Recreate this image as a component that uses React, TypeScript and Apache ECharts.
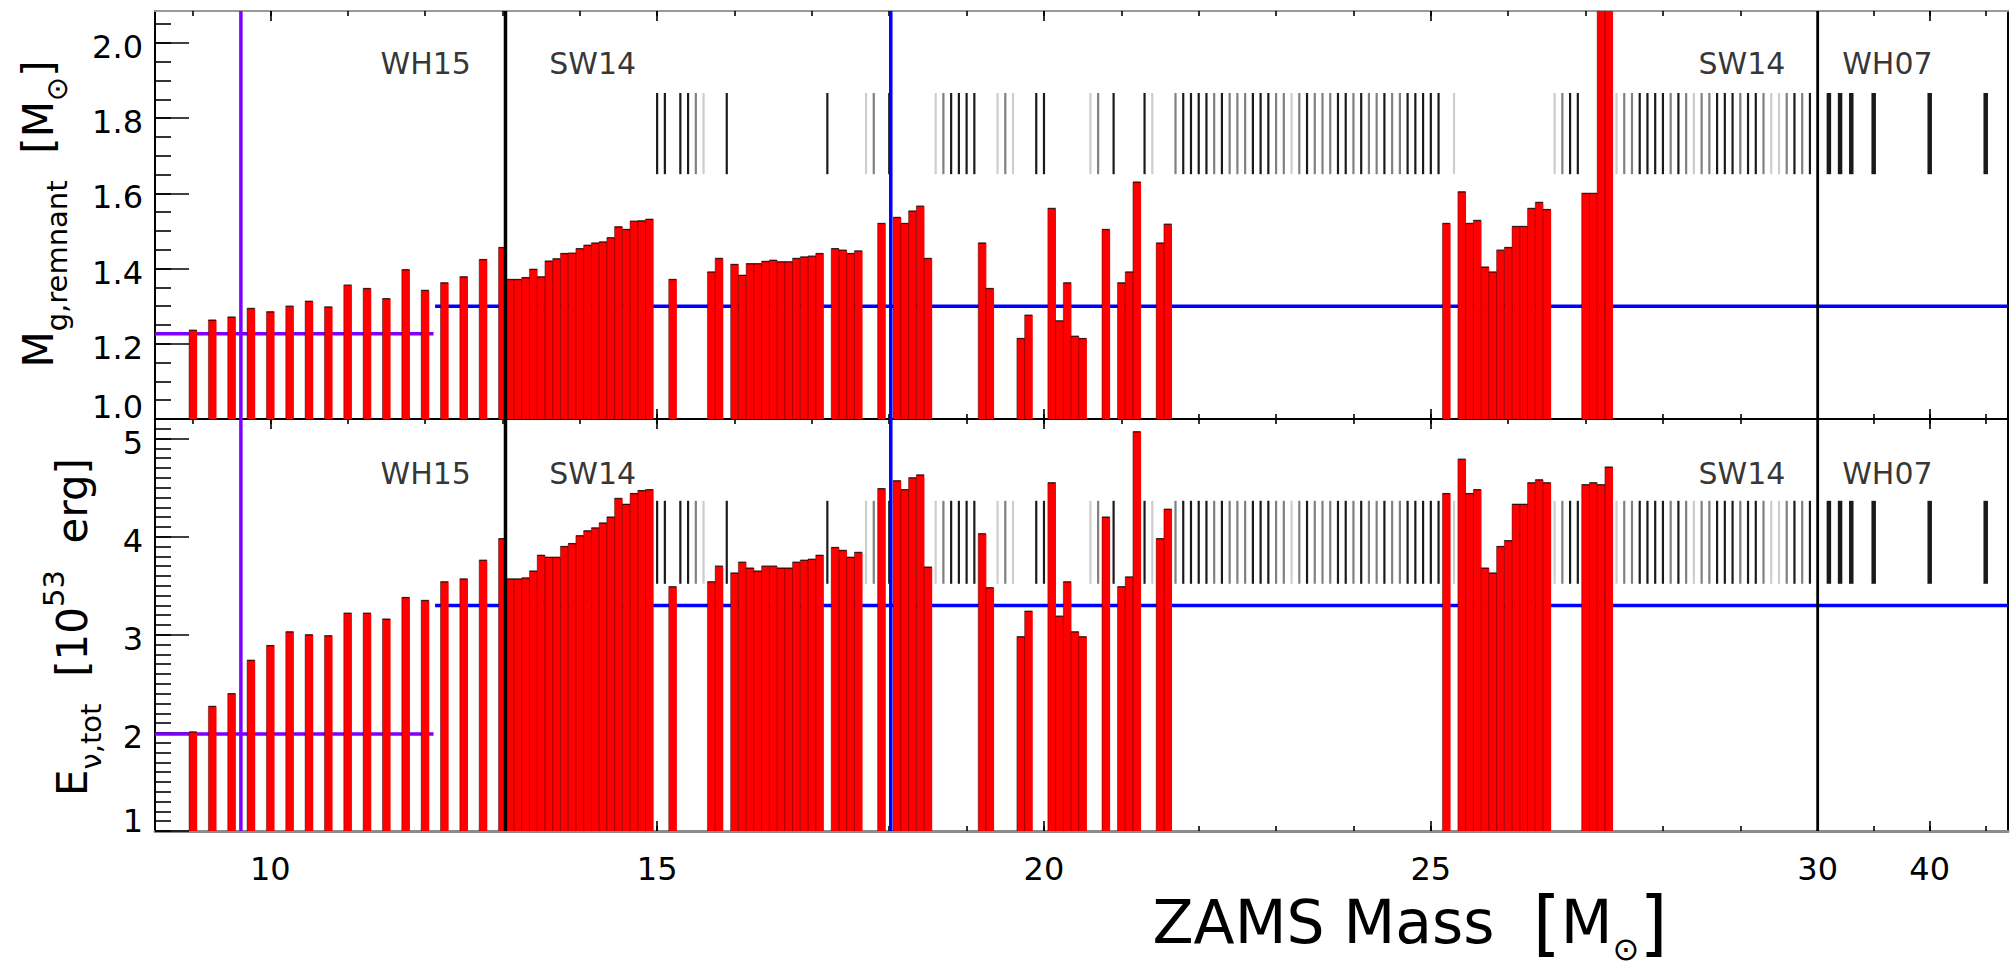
import React, { useEffect, useRef } from "react";
import * as echarts from "echarts";

// ---------------- data ----------------
const wh15Masses = [9.0, 9.25, 9.5, 9.75, 10.0, 10.25, 10.5, 10.75, 11.0, 11.25, 11.5, 11.75, 12.0, 12.25, 12.5, 12.75, 13.0];
const wh15Remnant = [1.236, 1.263, 1.271, 1.294, 1.285, 1.3, 1.313, 1.298, 1.356, 1.347, 1.32, 1.397, 1.342, 1.362, 1.378, 1.424, 1.456];
const wh15Energy = [2.01, 2.27, 2.4, 2.74, 2.89, 3.03, 3.0, 2.99, 3.22, 3.22, 3.16, 3.38, 3.35, 3.54, 3.57, 3.76, 3.98];

const sw14Masses = [
  13.1, 13.2, 13.3, 13.4, 13.5, 13.6, 13.7, 13.8, 13.9, 14.0, 14.1, 14.2, 14.3, 14.4, 14.5, 14.6, 14.7, 14.8, 14.9,
  15.2, 15.7, 15.8,
  16.0, 16.1, 16.2, 16.3, 16.4, 16.5, 16.6, 16.7, 16.8, 16.9, 17.0, 17.1,
  17.3, 17.4, 17.5, 17.6, 17.9,
  18.1, 18.2, 18.3, 18.4, 18.5,
  19.2, 19.3, 19.7, 19.8,
  20.1, 20.2, 20.3, 20.4, 20.5, 20.8,
  21.0, 21.1, 21.2, 21.5, 21.6,
  25.2, 25.4, 25.5, 25.6, 25.7, 25.8, 25.9, 26.0, 26.1, 26.2, 26.3, 26.4, 26.5,
  27.0, 27.1, 27.2, 27.3,
];
const sw14Remnant = [
  1.371, 1.371, 1.376, 1.398, 1.378, 1.42, 1.426, 1.44, 1.441, 1.453, 1.462, 1.468, 1.471, 1.482, 1.511, 1.504, 1.526, 1.527, 1.531,
  1.371, 1.391, 1.427,
  1.411, 1.382, 1.413, 1.413, 1.419, 1.422, 1.418, 1.418, 1.427, 1.431, 1.433, 1.44,
  1.453, 1.449, 1.44, 1.447, 1.52,
  1.536, 1.52, 1.553, 1.566, 1.427,
  1.468, 1.347, 1.214, 1.276,
  1.56, 1.261, 1.362, 1.22, 1.214, 1.504,
  1.362, 1.391, 1.63, 1.468, 1.518,
  1.52, 1.604, 1.52, 1.528, 1.404, 1.391, 1.449, 1.456, 1.512, 1.512, 1.56, 1.576, 1.557,
  1.6, 1.6, 2.3, 2.3,
];
const sw14Energy = [
  3.57, 3.57, 3.58, 3.65, 3.81, 3.79, 3.79, 3.9, 3.93, 4.01, 4.06, 4.09, 4.14, 4.2, 4.39, 4.33, 4.44, 4.47, 4.48,
  3.49, 3.54, 3.7,
  3.63, 3.74, 3.68, 3.65, 3.7, 3.7, 3.68, 3.68, 3.74, 3.76, 3.77, 3.81,
  3.89, 3.86, 3.79, 3.84, 4.49,
  4.57, 4.48, 4.6, 4.63, 3.69,
  4.03, 3.48, 2.98, 3.24,
  4.55, 3.19, 3.54, 3.03, 2.98, 4.2,
  3.49, 3.59, 5.07, 3.98, 4.28,
  4.44, 4.79, 4.44, 4.48, 3.68, 3.63, 3.9, 3.96, 4.33, 4.33, 4.55, 4.58, 4.55,
  4.53, 4.55, 4.53, 4.71,
];

// SW14 models without explosion (marker ticks) and their grey level (0 dark, 1 mid, 2 light)
const sw14FailedMasses = [
  15.0, 15.1, 15.3, 15.4, 15.5, 15.6, 15.9,
  17.2, 17.7, 17.8, 18.0,
  18.6, 18.7, 18.8, 18.9, 19.0, 19.1,
  19.4, 19.5, 19.6,
  19.9, 20.0,
  20.6, 20.7, 20.9,
  21.3, 21.4,
  21.7, 21.8, 21.9, 22.0, 22.1, 22.2, 22.3, 22.4, 22.5, 22.6, 22.7, 22.8, 22.9, 23.0, 23.1, 23.2, 23.3, 23.4,
  23.5, 23.6, 23.7, 23.8, 23.9, 24.0, 24.1, 24.2, 24.3, 24.4, 24.5, 24.6, 24.7, 24.8, 24.9, 25.0, 25.1,
  25.3,
  26.6, 26.7, 26.8, 26.9,
  27.4, 27.5, 27.6, 27.7, 27.8, 27.9, 28.0, 28.1, 28.2, 28.3, 28.4, 28.5, 28.6, 28.7, 28.8, 28.9,
  29.0, 29.1, 29.2, 29.3, 29.4, 29.5, 29.6, 29.7, 29.8, 29.9,
];
const sw14FailedShade = [
  0, 0, 0, 0, 1, 2, 0,
  0, 2, 1, 0,
  2, 1, 0, 0, 0, 0,
  2, 1, 2,
  0, 0,
  2, 1, 0,
  0, 2,
  1, 0, 0, 0, 0, 1, 0, 1, 1, 1, 0, 0, 0, 1, 1, 2, 1, 0,
  1, 1, 1, 0, 0, 1, 0, 1, 1, 0, 1, 1, 0, 0, 0, 0, 0,
  2,
  2, 1, 0, 0,
  2, 1, 1, 0, 0, 0, 0, 1, 0, 1, 2, 1, 1, 0, 0, 0,
  1, 0, 0, 1, 2, 2, 1, 0, 1, 0,
];
const wh07Masses = [31, 32, 33, 35, 40, 45];

const xTickLabels = [10, 15, 20, 25, 30, 40];
const remnantTickLabels = [1.0, 1.2, 1.4, 1.6, 1.8, 2.0];
const energyTickLabels = [1, 2, 3, 4, 5];

const wh15MeanRemnant = 1.227;
const sw14MeanRemnant = 1.3;
const wh15MeanEnergy = 1.99;
const sw14MeanEnergy = 3.3;
const meanSplitMass = 12.11;
const purpleMarkMass = 9.62;
const blueMarkMass = 18.02;
const setBoundaryMasses = [13.04, 30];

// ---------------- layout / style ----------------
const X_MIN = 8.51;
const X_MAX = 32.46;
const BREAK = 30;
const SQUEEZE = 0.1448;
const tx = (m: number) => (m <= BREAK ? m : BREAK + (m - BREAK) * SQUEEZE);
const untx = (t: number) => (t <= BREAK + 1e-9 ? t : BREAK + (t - BREAK) / SQUEEZE);

const TOP_RANGE = [1.0, 2.085];
const BOT_RANGE = [1.0, 5.2];
const TOP_BAND = [1.651, 1.867];
const BOT_BAND = [3.52, 4.366];
const BAR_HALF = 0.05;
const RED = "#ff0000";
const PURPLE = "#7f00ff";
const BLUE = "#0000ff";
const SHADES = ["#1a1a1a", "#808080", "#cdcdcd"];
const FONT = "DejaVu Sans";

const ticksBetween = (a: number, b: number, step: number) => {
  const out: number[] = [];
  const n = Math.round((b - a) / step);
  for (let i = 0; i <= n; i++) out.push(Math.round((a + i * step) * 1000) / 1000);
  return out;
};

const xMinorTicks = ticksBetween(9, 30, 1).concat([35, 40, 45].map(tx));
const xMajorTicks = [10, 15, 20, 25, 30].concat([40].map(tx));
const topMinorTicks = ticksBetween(1.0, 2.05, 0.05);
const botMinorTicks = ticksBetween(1.0, 5.2, 0.1);

const renderBar = (params: any, api: any) => {
  const m = api.value(0);
  const v = api.value(1);
  const cs = params.coordSys;
  const a = api.coord([m - BAR_HALF, v]);
  const b = api.coord([m + BAR_HALF, v]);
  const top = Math.max(cs.y, a[1]);
  const bottom = cs.y + cs.height;
  const x0 = a[0];
  const x1 = b[0];
  return {
    type: "group",
    children: [
      { type: "rect", shape: { x: x0, y: top, width: x1 - x0 + 0.4, height: bottom - top }, style: { fill: RED } },
      {
        type: "line",
        shape: { x1: x0, y1: top, x2: x1, y2: top },
        style: { stroke: "#000", lineWidth: 1.3, opacity: top > cs.y + 0.5 ? 0.8 : 0 },
      },
      { type: "line", shape: { x1: x0, y1: top, x2: x0, y2: bottom }, style: { stroke: "#000", lineWidth: 1, opacity: 0.4 } },
    ],
  };
};

const renderMarker = (width: number) => (params: any, api: any) => {
  const x = api.value(0);
  const lo = api.value(1);
  const hi = api.value(2);
  const shade = api.value(3);
  const p0 = api.coord([x, lo]);
  const p1 = api.coord([x, hi]);
  return {
    type: "line",
    shape: { x1: p0[0], y1: p0[1], x2: p1[0], y2: p1[1] },
    style: { stroke: SHADES[shade], lineWidth: width },
  };
};

const annotations = [
  { text: "WH15", x: 12.6, side: "left" },
  { text: "SW14", x: 13.6, side: "right" },
  { text: "SW14", x: 29.59, side: "left" },
  { text: "WH07", x: 30.31, side: "right" },
];
const annotationY = [1.946, 4.648];

function buildPanel(p: number) {
  const xi = p * 4;
  const yi = p * 3;
  const range = p === 0 ? TOP_RANGE : BOT_RANGE;
  const band = p === 0 ? TOP_BAND : BOT_BAND;
  const vals = p === 0 ? wh15Remnant.concat(sw14Remnant) : wh15Energy.concat(sw14Energy);
  const masses = wh15Masses.concat(sw14Masses);
  const meanA = p === 0 ? wh15MeanRemnant : wh15MeanEnergy;
  const meanB = p === 0 ? sw14MeanRemnant : sw14MeanEnergy;
  const common = { xAxisIndex: xi, yAxisIndex: yi, silent: true, animation: false };
  const vline = (m: number, color: string, width: number) => ({
    ...common,
    type: "line",
    symbol: "none",
    z: 6,
    data: [
      [tx(m), range[0]],
      [tx(m), range[1]],
    ],
    lineStyle: { color, width },
  });
  return [
    {
      ...common,
      type: "line",
      symbol: "none",
      z: 1,
      data: [
        [X_MIN, meanA],
        [meanSplitMass, meanA],
      ],
      lineStyle: { color: PURPLE, width: 3.5 },
    },
    {
      ...common,
      type: "line",
      symbol: "none",
      z: 1,
      data: [
        [meanSplitMass + 0.02, meanB],
        [X_MAX, meanB],
      ],
      lineStyle: { color: BLUE, width: 3.5 },
    },
    {
      ...common,
      type: "custom",
      z: 3,
      renderItem: renderBar,
      encode: { x: 0, y: 1 },
      data: masses.map((m, i) => [tx(m), vals[i]]),
    },
    {
      ...common,
      type: "custom",
      z: 4,
      renderItem: renderMarker(2.2),
      encode: { x: 0, y: [1, 2] },
      data: sw14FailedMasses.map((m, i) => [tx(m), band[0], band[1], sw14FailedShade[i]]),
    },
    {
      ...common,
      type: "custom",
      z: 4,
      renderItem: renderMarker(4.5),
      encode: { x: 0, y: [1, 2] },
      data: wh07Masses.map((m) => [tx(m), band[0], band[1], 0]),
    },
    vline(purpleMarkMass, PURPLE, 3.5),
    vline(blueMarkMass, BLUE, 3.5),
    vline(setBoundaryMasses[0], "#000", 3.5),
    vline(setBoundaryMasses[1], "#000", 2.8),
    {
      ...common,
      type: "scatter",
      z: 8,
      symbolSize: 1,
      itemStyle: { color: "rgba(0,0,0,0)" },
      data: annotations.map((a) => ({
        value: [a.x, annotationY[p]],
        label: {
          show: true,
          position: a.side,
          distance: 0,
          formatter: a.text,
          fontFamily: FONT,
          fontSize: 30,
          color: "#000",
        },
      })),
    },
  ];
}

function xAxesFor(gridIndex: number, bottomPanel: boolean) {
  const base = { type: "value", gridIndex, min: X_MIN, max: X_MAX, splitLine: { show: false } };
  const tickStyle = { color: "#000", width: 1.6 };
  const minor = { show: true, inside: true, length: 5, customValues: xMinorTicks, lineStyle: tickStyle };
  const major = { show: true, inside: true, length: 10, customValues: xMajorTicks, lineStyle: tickStyle };
  return [
    {
      ...base,
      position: "bottom",
      axisLine: {
        show: true,
        onZero: false,
        lineStyle: { color: bottomPanel ? "#8c8c8c" : "#000", width: bottomPanel ? 3 : 2 },
      },
      axisTick: minor,
      axisLabel: bottomPanel
        ? {
            show: true,
            customValues: xTickLabels.map(tx),
            formatter: (v: number) => String(Math.round(untx(v))),
            margin: 22,
            fontFamily: FONT,
            fontSize: 32,
            color: "#000",
          }
        : { show: false },
    },
    { ...base, position: "bottom", axisLine: { show: false }, axisTick: major, axisLabel: { show: false } },
    {
      ...base,
      position: "top",
      axisLine: { show: true, onZero: false, lineStyle: { color: bottomPanel ? "#000" : "#9a9a9a", width: 2 } },
      axisTick: minor,
      axisLabel: { show: false },
    },
    { ...base, position: "top", axisLine: { show: false }, axisTick: major, axisLabel: { show: false } },
  ];
}

function yAxesFor(gridIndex: number, range: number[], labels: number[], minors: number[], digits: number) {
  const base = { type: "value", gridIndex, min: range[0], max: range[1], splitLine: { show: false } };
  const tickStyle = { color: "#000", width: 1.6 };
  return [
    {
      ...base,
      position: "left",
      axisLine: { show: true, onZero: false, lineStyle: { color: "#000", width: 2 } },
      axisTick: { show: true, inside: true, length: 34, customValues: labels, lineStyle: tickStyle },
      axisLabel: {
        show: true,
        // the lowest label is drawn lifted above the corner (see graphic below)
        customValues: labels.filter((v) => Math.abs(v - range[0]) > 1e-6),
        margin: 12,
        fontFamily: FONT,
        fontSize: 32,
        color: "#000",
        formatter: (v: number) => `{n|${v.toFixed(digits)}}`,
        rich: {
          n: { fontFamily: FONT, fontSize: 32, color: "#000", lineHeight: 32, padding: [8, 0, 0, 0] },
        },
      },
    },
    {
      ...base,
      position: "left",
      axisLine: { show: false },
      axisTick: { show: true, inside: true, length: 16, customValues: minors, lineStyle: tickStyle },
      axisLabel: { show: false },
    },
    {
      ...base,
      position: "right",
      axisLine: { show: true, onZero: false, lineStyle: { color: "#000", width: 2 } },
      axisTick: { show: false },
      axisLabel: { show: false },
    },
  ];
}

const titleRich = (main: number, small: number, lh: number) => ({
  a: { fontFamily: FONT, fontSize: main, fill: "#000", lineHeight: lh, verticalAlign: "middle" },
  b: { fontFamily: FONT, fontSize: main * 1.2, fill: "#000", verticalAlign: "middle" },
  s: { fontFamily: FONT, fontSize: small, fill: "#000", verticalAlign: "bottom" },
  p: { fontFamily: FONT, fontSize: small, fill: "#000", verticalAlign: "top" },
});

export default function App() {
  const ref = useRef<HTMLDivElement>(null);
  useEffect(() => {
    if (!ref.current) return;
    const chart = echarts.init(ref.current, undefined, { renderer: "svg" });
    chart.setOption({
      animation: false,
      backgroundColor: "#ffffff",
      grid: [
        { left: 155, right: 6, top: 11, height: 408 },
        { left: 155, right: 6, top: 419, height: 412 },
      ],
      xAxis: [...xAxesFor(0, false), ...xAxesFor(1, true)],
      yAxis: [
        ...yAxesFor(0, TOP_RANGE, remnantTickLabels, topMinorTicks, 1),
        ...yAxesFor(1, BOT_RANGE, energyTickLabels, botMinorTicks, 0),
      ],
      series: [...buildPanel(0), ...buildPanel(1)],
      graphic: [
        {
          type: "text",
          x: 143,
          y: 407,
          style: {
            text: remnantTickLabels[0].toFixed(1),
            align: "right",
            verticalAlign: "middle",
            fontFamily: FONT,
            fontSize: 32,
            lineHeight: 30,
            fill: "#000",
          },
        },
        {
          type: "text",
          x: 143,
          y: 821,
          style: {
            text: String(energyTickLabels[0]),
            align: "right",
            verticalAlign: "middle",
            fontFamily: FONT,
            fontSize: 32,
            lineHeight: 30,
            fill: "#000",
          },
        },
        {
          type: "text",
          x: 38,
          y: 214,
          rotation: Math.PI / 2,
          style: {
            text: "{a|M}{s|g,remnant}{a|  [M}{s|⊙}{a|]}",
            align: "center",
            verticalAlign: "middle",
            rich: titleRich(42, 29, 66),
          },
        },
        {
          type: "text",
          x: 72,
          y: 627,
          rotation: Math.PI / 2,
          style: {
            text: "{a|E}{s|ν,tot}{a|  [10}{p|53}{a|  erg]}",
            align: "center",
            verticalAlign: "middle",
            rich: titleRich(42, 29, 66),
          },
        },
        {
          type: "text",
          x: 1410,
          y: 922,
          style: {
            text: "{a|ZAMS Mass  }{b|[}{a|M}{s|⊙}{b|]}",
            align: "center",
            verticalAlign: "middle",
            rich: titleRich(60, 32, 86),
          },
        },
      ],
    });
    return () => chart.dispose();
  }, []);
  return (
    <div
      ref={ref}
      style={{ position: "fixed", left: 0, top: 0, width: 2014, height: 973, background: "#fff" }}
    />
  );
}
